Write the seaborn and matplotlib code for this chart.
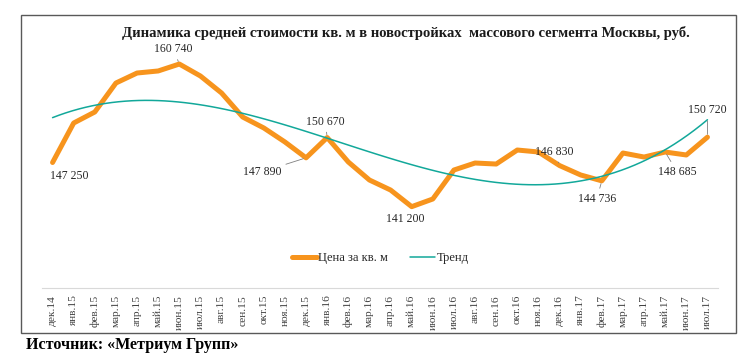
import matplotlib
matplotlib.use("Agg")
import matplotlib.pyplot as plt
import matplotlib.patches as patches
import numpy as np
import pandas as pd
import seaborn as sns

# ── Data ─────────────────────────────────────────────────────────────────────
months = [
    "дек.14", "янв.15", "фев.15", "мар.15", "апр.15", "май.15", "июн.15", "июл.15",
    "авг.15", "сен.15", "окт.15", "ноя.15", "дек.15", "янв.16", "фев.16", "мар.16",
    "апр.16", "май.16", "июн.16", "июл.16", "авг.16", "сен.16", "окт.16", "ноя.16",
    "дек.16", "янв.17", "фев.17", "мар.17", "апр.17", "май.17", "июн.17", "июл.17",
]
price = [
    147250, 152660, 154170, 158140, 159510, 159790, 160740, 159100,
    156770, 153480, 151980, 150060, 147890, 150670, 147320, 144850,
    143480, 141200, 142250, 146220, 147180, 147040, 148960, 148690,
    146830, 145540, 144736, 148550, 148000, 148685, 148280, 150720,
]
# labelled points: (month index, text offset in pixels)
label_idx = [0, 6, 12, 13, 17, 24, 26, 29, 31]
label_off = [(17, -13), (-6, 15), (-44, -14), (-2, 16), (-6, -12),
             (-5, 14), (-5, -18), (12, -20), (0, 27)]
label_leader = [False, True, True, True, False, True, True, True, True]

ORANGE = "#F7941D"
TEAL = "#12A89A"

sns.set_style("white")
plt.rcParams["font.family"] = ["Liberation Serif", "DejaVu Serif"]

df = pd.DataFrame({"idx": np.arange(len(months)), "price": price})

fig = plt.figure(figsize=(7.56, 3.58), dpi=100)
ax = fig.add_axes([42 / 756, 70 / 358, 676 / 756, 248 / 358])

sns.lineplot(data=df, x="idx", y="price", ax=ax, color=ORANGE, lw=3.6,
             label="Цена за кв. м")
# Excel-style polynomial trend (3rd order fit of the same series)
sns.regplot(data=df, x="idx", y="price", ax=ax, order=3, ci=None, scatter=False,
            label="Тренд", line_kws={"color": TEAL, "lw": 1.1})

for i, (dx, dy), lead in zip(label_idx, label_off, label_leader):
    ax.annotate(
        f"{price[i]:,}".replace(",", " "),
        xy=(i, price[i]), xytext=(dx, dy), textcoords="offset pixels",
        ha="center", va="center", fontsize=8.5, color="#262626",
        arrowprops=dict(arrowstyle="-", color="#7F7F7F", lw=0.6,
                        shrinkA=1, shrinkB=2) if lead else None,
    )

ax.set_xlim(-0.5, len(months) - 0.5)
ax.set_ylim(130056, 164033)
ax.set_xticks(range(len(months)))
ax.set_xticklabels(months, rotation=90, fontsize=8.2, color="#404040")
ax.tick_params(axis="x", length=0, pad=5)
ax.set_yticks([])
ax.set_xlabel("")
ax.set_ylabel("")
for side in ["top", "left", "right"]:
    ax.spines[side].set_visible(False)
ax.spines["bottom"].set_color("#D9D9D9")
ax.spines["bottom"].set_linewidth(0.8)

ax.legend(loc="center", bbox_to_anchor=(0.5, 0.12), ncol=2, frameon=False,
          fontsize=9, handlelength=2.0, handletextpad=0.1, columnspacing=1.8)

fig.text(406 / 756, 1 - 33 / 358,
         "Динамика средней стоимости кв. м в новостройках  массового сегмента Москвы, руб.",
         ha="center", va="center", fontsize=10.5, fontweight="bold", color="#1a1a1a")
fig.text(26 / 756, 1 - 345 / 358, "Источник: «Метриум Групп»",
         ha="left", va="center", fontsize=11.5, fontweight="bold", color="black")

fig.patches.append(patches.Rectangle(
    (21 / 756, 1 - 333 / 358), 715 / 756, 318 / 358, transform=fig.transFigure,
    fill=False, edgecolor="#595959", lw=1.0))

fig.savefig("out.png", dpi=100)
plt.close(fig)
